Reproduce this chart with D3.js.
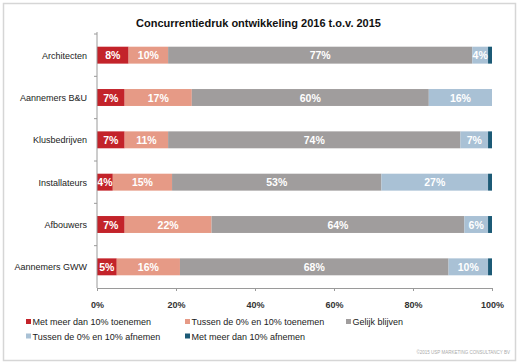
<!DOCTYPE html>
<html>
<head>
<meta charset="utf-8">
<script src="https://cdn.jsdelivr.net/npm/d3@7"></script>
<style>
  body { margin: 0; background: #fff; }
  svg { display: block; }
</style>
</head>
<body>
<div id="chart"></div>
<script>
// categories and values (percent)
const categories = ['Architecten', 'Aannemers B&U', 'Klusbedrijven', 'Installateurs', 'Afbouwers', 'Aannemers GWW'];
const seriesNames = [
  'Met meer dan 10% toenemen',
  'Tussen de 0% en 10% toenemen',
  'Gelijk blijven',
  'Tussen de 0% en 10% afnemen',
  'Met meer dan 10% afnemen'
];
const stronglyUp   = [8, 7, 7, 4, 7, 5];
const slightlyUp   = [10, 17, 11, 15, 22, 16];
const unchanged    = [77, 60, 74, 53, 64, 68];
const slightlyDown = [4, 16, 7, 27, 6, 10];
const stronglyDown = [1, 0, 1, 1, 1, 1];
const xTicks = [0, 20, 40, 60, 80, 100];

const COLORS = ['#c3232a', '#e69a86', '#a09d9d', '#a9c1d5', '#1c5a76'];

(function () {
  const width = 520, height = 363;
  const margin = { top: 34, right: 27, bottom: 75, left: 97 };
  const innerW = width - margin.left - margin.right;
  const innerH = height - margin.top - margin.bottom;
  const font = 'Liberation Sans, Arial, sans-serif';

  const rows = categories.map((c, i) => ({
    cat: c,
    s0: stronglyUp[i], s1: slightlyUp[i], s2: unchanged[i], s3: slightlyDown[i], s4: stronglyDown[i]
  }));
  const keys = ['s0', 's1', 's2', 's3', 's4'];
  const stacked = d3.stack().keys(keys)(rows);

  const svg = d3.select('#chart').append('svg')
    .attr('width', width).attr('height', height);

  // frame
  svg.append('rect')
    .attr('x', 3.5).attr('y', 3.5).attr('width', width - 8).attr('height', height - 6)
    .attr('fill', '#fff').attr('stroke', '#d6d6d6').attr('stroke-width', 1.5);

  svg.append('text')
    .attr('x', 258.5).attr('y', 27)
    .attr('text-anchor', 'middle')
    .attr('font-family', font).attr('font-size', '11px').attr('font-weight', 'bold')
    .attr('fill', '#111')
    .text('Concurrentiedruk ontwikkeling 2016 t.o.v. 2015');

  const g = svg.append('g').attr('transform', `translate(${margin.left},${margin.top})`);

  const x = d3.scaleLinear().domain([0, 100]).range([0, innerW - 1]);
  const y = d3.scaleBand().domain(categories).range([0, innerH]).paddingInner(0.6).paddingOuter(0.3);

  // bars
  const layers = g.selectAll('.layer').data(stacked).enter().append('g')
    .attr('fill', (d, i) => COLORS[i]);
  layers.selectAll('rect').data(d => d).enter().append('rect')
    .attr('x', d => x(d[0]))
    .attr('y', d => y(d.data.cat))
    .attr('width', d => x(d[1]) - x(d[0]))
    .attr('height', y.bandwidth());

  // value labels
  stacked.forEach((layer, li) => {
    if (li === 4) return;
    g.selectAll('.lbl' + li).data(layer.filter(d => d[1] - d[0] > 0)).enter().append('text')
      .attr('x', d => x((d[0] + d[1]) / 2))
      .attr('y', d => y(d.data.cat) + y.bandwidth() / 2 + 4)
      .attr('text-anchor', 'middle')
      .attr('font-family', font).attr('font-size', '10.5px').attr('font-weight', 'bold')
      .attr('fill', '#fff')
      .text(d => (d[1] - d[0]) + '%');
  });

  // y axis
  const step = y.step();
  const yAxis = g.append('g');
  yAxis.append('line')
    .attr('x1', 0).attr('x2', 0).attr('y1', -2).attr('y2', innerH)
    .attr('stroke', '#9a9a9a');
  yAxis.selectAll('.ytick').data(d3.range(categories.length)).enter().append('line')
    .attr('x1', -3).attr('x2', 0)
    .attr('y1', i => y(categories[i]) - (step - y.bandwidth()) / 2)
    .attr('y2', i => y(categories[i]) - (step - y.bandwidth()) / 2)
    .attr('stroke', '#9a9a9a');
  yAxis.selectAll('.ylab').data(categories).enter().append('text')
    .attr('x', -10)
    .attr('y', d => y(d) + y.bandwidth() / 2 + 3.5)
    .attr('text-anchor', 'end')
    .attr('font-family', font).attr('font-size', '9px')
    .attr('fill', '#222')
    .text(d => d);

  // x axis
  g.append('g').attr('transform', `translate(0,${innerH})`)
    .call(d3.axisBottom(x).tickValues(xTicks).tickFormat(d => d + '%').tickSize(3).tickSizeOuter(0))
    .call(a => a.select('.domain').attr('stroke', '#9a9a9a'))
    .call(a => a.selectAll('.tick line').attr('stroke', '#9a9a9a'))
    .selectAll('text')
    .attr('dy', '1.5em')
    .attr('font-family', font).attr('font-size', '9px').attr('font-weight', 'bold')
    .attr('fill', '#333');

  // legend
  const legendPos = [[26, 325], [185, 325], [346, 325], [26, 339.5], [185, 339.5]];
  seriesNames.forEach((name, i) => {
    const lg = svg.append('g').attr('transform', `translate(${legendPos[i][0]},${legendPos[i][1]})`);
    lg.append('rect').attr('x', 0).attr('y', -6).attr('width', 5).attr('height', 5).attr('fill', COLORS[i]);
    lg.append('text').attr('x', 6.5).attr('y', 0)
      .attr('font-family', font).attr('font-size', '9px').attr('fill', '#222')
      .text(name);
  });

  svg.append('text')
    .attr('x', 510).attr('y', 354)
    .attr('text-anchor', 'end')
    .attr('font-family', font).attr('font-size', '4.5px').attr('fill', '#aaa')
    .text('©2015 USP MARKETING CONSULTANCY BV');
})();
</script>
</body>
</html>
